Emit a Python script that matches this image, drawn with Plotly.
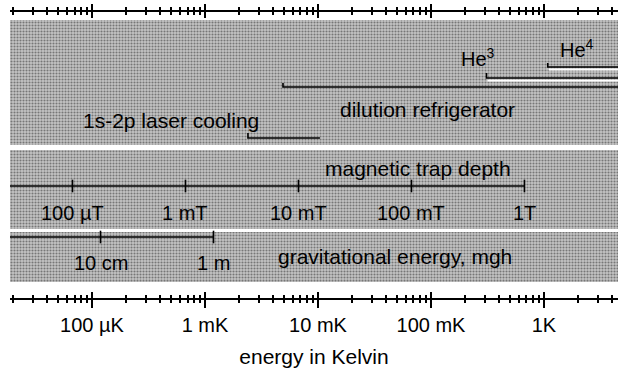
import numpy as np
import plotly.graph_objects as go

# ---------------- data (temperatures in Kelvin) ----------------
axis_tick_vals = [1e-4, 1e-3, 1e-2, 1e-1, 1.0]
axis_tick_text = ["100 µK", "1 mK", "10 mK", "100 mK", "1K"]
axis_range_K = [1.88e-5, 4.52]

he4_start_K = 1.08
he3_start_K = 0.31
dilution_start_K = 4.9e-3
laser_range_K = [2.4e-3, 10.4e-3]

trap_fields_T = [1e-4, 1e-3, 1e-2, 1e-1, 1.0]
trap_field_labels = ["100 µT", "1 mT", "10 mT", "100 mT", "1T"]
muB_over_k = 0.6717          # K per tesla

grav_heights_m = [0.1, 1.0]
grav_height_labels = ["10 cm", "1 m"]
mgh_over_k = 1.189e-3        # K per metre (hydrogen)

# ---------------- helpers ----------------
lo, hi = np.log10(axis_range_K[0]), np.log10(axis_range_K[1])
majors = axis_tick_vals
minors = [m * d for d in [1e-5, 1e-4, 1e-3, 1e-2, 1e-1, 1.0] for m in range(2, 10)
          if axis_range_K[0] * 0.99 <= m * d <= axis_range_K[1]]

FONT = "Liberation Sans, Arial, sans-serif"
fig = go.Figure()

# panels (y measured downward from top of plot area, in px-like units)
panels = [(8, 133), (138, 217), (220, 270)]
for y0, y1 in panels:
    fig.add_trace(go.Scatter(
        x=[axis_range_K[0], axis_range_K[1], axis_range_K[1], axis_range_K[0], axis_range_K[0]],
        y=[y0, y0, y1, y1, y0], mode="lines", line=dict(width=0),
        fill="toself", fillcolor="#a8a8a8",
        fillpattern=dict(shape=".", fgcolor="#2a2a2a", bgcolor="#c4c4c4", size=3, solidity=0.4),
        hoverinfo="skip", showlegend=False))

def seg(xs, ys, width=1.6, color="black"):
    fig.add_trace(go.Scatter(x=xs, y=ys, mode="lines", line=dict(color=color, width=width),
                             hoverinfo="skip", showlegend=False))

# He4 bracket (double line)
seg([he4_start_K, he4_start_K, axis_range_K[1]], [51, 55, 55])
seg([he4_start_K * 1.02, axis_range_K[1]], [57.5, 57.5], width=2, color="white")
# He3 bracket
seg([he3_start_K, he3_start_K, axis_range_K[1]], [61, 66, 66])
seg([he3_start_K * 1.02, axis_range_K[1]], [68.5, 68.5], width=2, color="white")
# dilution refrigerator
seg([dilution_start_K, dilution_start_K, axis_range_K[1]], [71, 75, 75])
# laser cooling
seg([laser_range_K[0], laser_range_K[0], laser_range_K[1]], [121, 126, 126])

# magnetic trap depth
trap_K = [b * muB_over_k for b in trap_fields_T]
seg([axis_range_K[0], trap_K[-1]], [174, 174])
fig.add_trace(go.Scatter(x=trap_K, y=[174] * len(trap_K), mode="markers",
                         marker=dict(symbol="line-ns", size=9, line=dict(width=1.6, color="black")),
                         hoverinfo="skip", showlegend=False))
# gravitational energy
grav_K = [h * mgh_over_k for h in grav_heights_m]
seg([axis_range_K[0], grav_K[-1]], [225, 225])
fig.add_trace(go.Scatter(x=grav_K, y=[225] * len(grav_K), mode="markers",
                         marker=dict(symbol="line-ns", size=9, line=dict(width=1.6, color="black")),
                         hoverinfo="skip", showlegend=False))

# text labels
def label(xlog, y, text, size=21):
    fig.add_annotation(x=xlog, y=y, xref="x", yref="y", text=text, showarrow=False,
                       font=dict(family=FONT, size=size, color="black"))

label(0.29, 36, "He<sup>4</sup>", 20)
label(-0.584, 45, "He<sup>3</sup>", 20)
label(-1.035, 97, "dilution refrigerator")
label(-3.30, 108, "1s-2p laser cooling")
label(-1.115, 156, "magnetic trap depth")
for v, t in zip(trap_K, trap_field_labels):
    label(np.log10(v), 201, t, 20)
for v, t in zip(grav_K, grav_height_labels):
    label(np.log10(v), 251, t, 20)
label(-1.32, 244, "gravitational energy, mgh")

# dummy traces to activate extra axes
for ax in ["x2", "x3", "x4"]:
    fig.add_trace(go.Scatter(x=[1e-3], y=[0], xaxis=ax, mode="markers",
                             marker=dict(opacity=0), hoverinfo="skip", showlegend=False))

common = dict(type="log", range=[lo, hi], showgrid=False, zeroline=False,
              tickvals=majors, tickwidth=1.5, tickcolor="black", linecolor="black")
fig.update_layout(
    width=618, height=375,
    margin=dict(l=10, r=0, t=12, b=77),
    paper_bgcolor="white", plot_bgcolor="white",
    showlegend=False,
    xaxis=dict(**common, side="bottom", anchor="y", showline=True, linewidth=2,
               ticks="outside", ticklen=8, ticktext=axis_tick_text,
               tickfont=dict(family=FONT, size=20, color="black"),
               minor=dict(tickvals=minors, ticks="outside", ticklen=3, tickwidth=1.5, tickcolor="black"),
               title=dict(text="energy in Kelvin", font=dict(family=FONT, size=21, color="black"),
                          standoff=14)),
    xaxis2=dict(**common, side="bottom", anchor="y", overlaying="x", showline=False,
                ticks="inside", ticklen=6, showticklabels=False,
                minor=dict(tickvals=minors, ticks="inside", ticklen=3, tickwidth=1.5, tickcolor="black")),
    xaxis3=dict(**common, side="top", anchor="y", overlaying="x", showline=True, linewidth=2,
                ticks="outside", ticklen=6, showticklabels=False,
                minor=dict(tickvals=minors, ticks="outside", ticklen=3, tickwidth=1.5, tickcolor="black")),
    xaxis4=dict(**common, side="top", anchor="y", overlaying="x", showline=False,
                ticks="inside", ticklen=6, showticklabels=False,
                minor=dict(tickvals=minors, ticks="inside", ticklen=3, tickwidth=1.5, tickcolor="black")),
    yaxis=dict(range=[286, 0], visible=False, showgrid=False, zeroline=False),
)

fig.write_html("out.html")
